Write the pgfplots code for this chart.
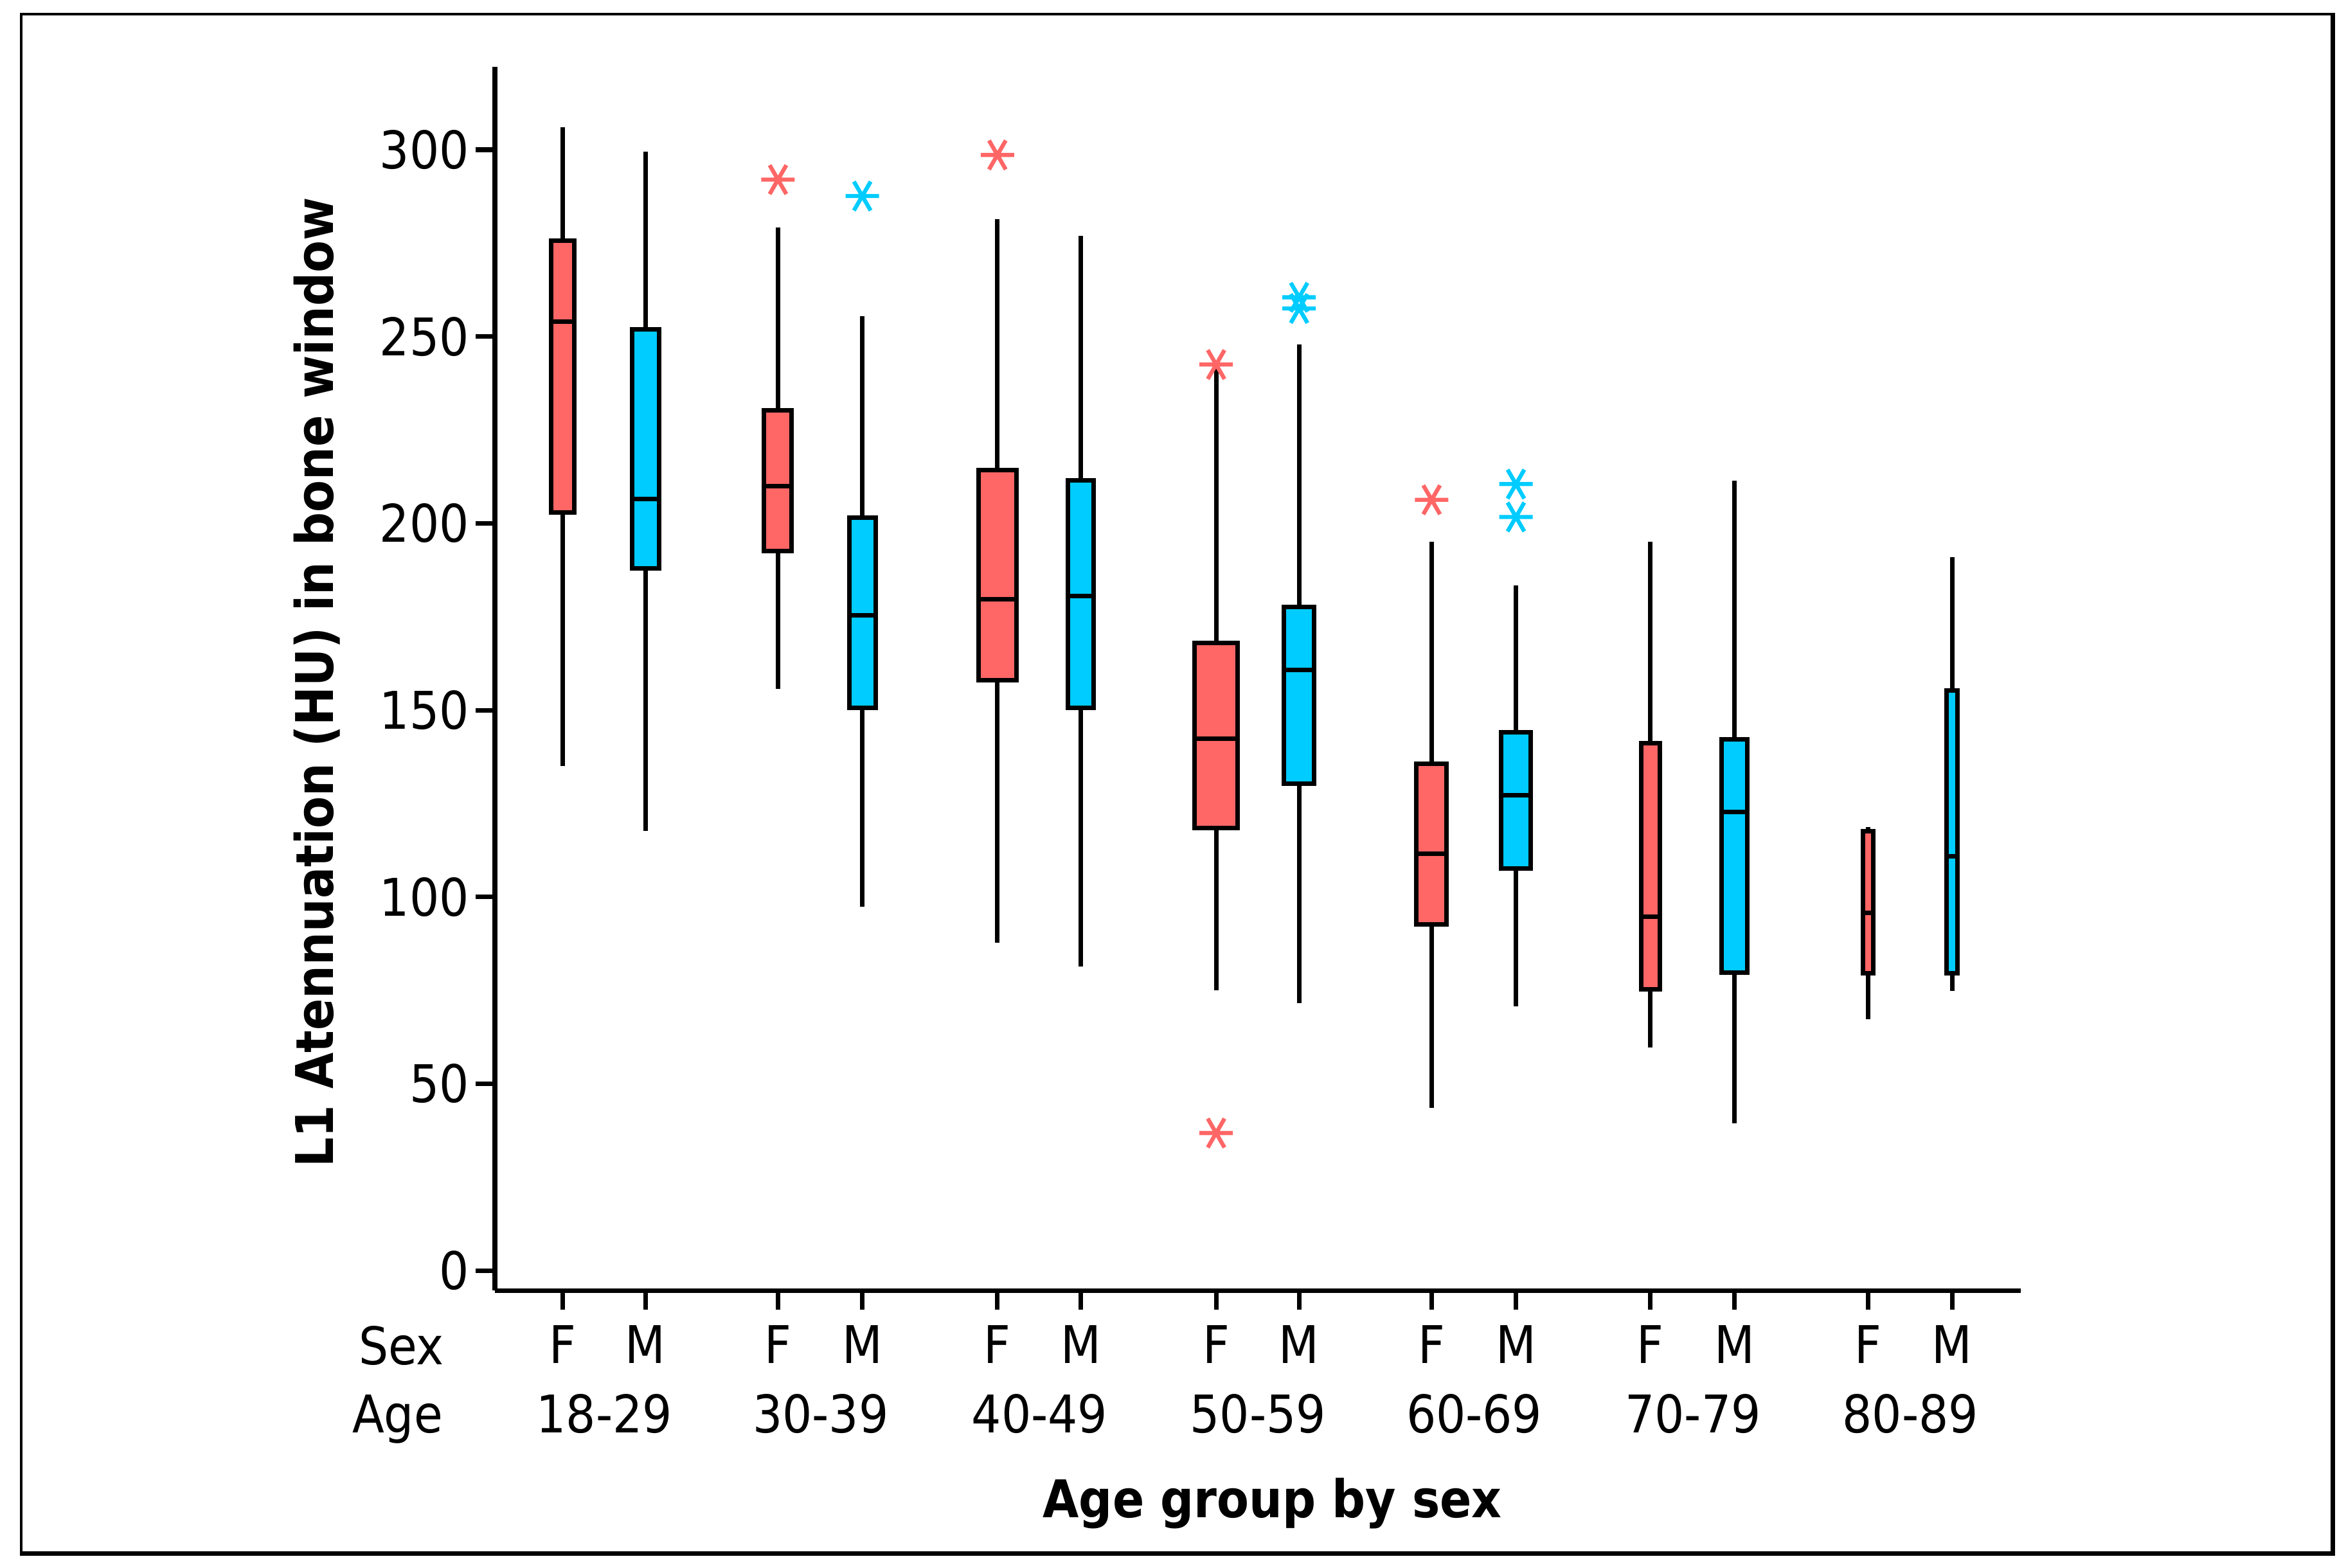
\documentclass[border=0pt]{standalone}
\usepackage{fontspec}
\setmainfont{DejaVu Sans Condensed}
\usepackage{pgfplots}
\pgfplotsset{compat=1.18}
\usepgfplotslibrary{statistics}

\definecolor{fcol}{HTML}{FF6666}
\definecolor{mcol}{HTML}{00CCFF}

\pgfplotsset{
  sbox/.style={
    draw=black, line width=1pt, fill=#1,
    mark=asterisk, mark size=3.7pt,
    mark options={draw=#1, line width=0.9pt, rotate=90},
    boxplot/draw direction=y,
    boxplot/whisker extend=0,
  },
}

\begin{document}
\begin{tikzpicture}
\useasboundingbox (0,0) rectangle (18.25cm,-12.195cm);
\begin{axis}[
  at={(3.85cm,-10.04cm)}, anchor=south west,
  x=0.005cm, y=0.029065cm,
  xmin=770, xmax=3142, ymin=-5.33, ymax=322.2,
  axis x line=bottom, axis y line=left,
  axis line style={-, line width=1pt},
  every tick/.style={black, line width=1pt},
  tick align=outside, major tick length=4.2pt,
  ytick={0,50,...,300},
  xtick={875,1004,1210,1341,1551,1681,1891,2020,2226,2357,2566,2697,2904,3035},
  xticklabels={F,M,F,M,F,M,F,M,F,M,F,M,F,M},
  font=\fontsize{11.5}{13.8}\selectfont,
  tick label style={font=\fontsize{11.5}{13.8}\selectfont},
  /pgf/number format/assume math mode=true,
  yticklabel style={xshift=2pt},
  clip=false,
]
% females
\addplot[sbox=fcol, boxplot prepared={draw position=875, box extend=36,
  lower whisker=135.0, lower quartile=202.9, median=254.0, upper quartile=275.7, upper whisker=306.1}]
  coordinates {};
\addplot[sbox=fcol, boxplot prepared={draw position=1210, box extend=43,
  lower whisker=155.6, lower quartile=192.5, median=209.9, upper quartile=230.3, upper whisker=279.2}]
  coordinates {(0,292.0)};
\addplot[sbox=fcol, boxplot prepared={draw position=1551, box extend=59,
  lower whisker=87.7, lower quartile=158.0, median=179.6, upper quartile=214.2, upper whisker=281.4}]
  coordinates {(0,298.6)};
\addplot[sbox=fcol, boxplot prepared={draw position=1891, box extend=67,
  lower whisker=75.0, lower quartile=118.4, median=142.3, upper quartile=167.9, upper whisker=241.5}]
  coordinates {(0,242.5) (0,36.8)};
\addplot[sbox=fcol, boxplot prepared={draw position=2226, box extend=47,
  lower whisker=43.6, lower quartile=92.6, median=111.5, upper quartile=135.6, upper whisker=195.1}]
  coordinates {(0,206.3)};
\addplot[sbox=fcol, boxplot prepared={draw position=2566, box extend=29,
  lower whisker=59.7, lower quartile=75.3, median=94.7, upper quartile=141.1, upper whisker=195.1}]
  coordinates {};
\addplot[sbox=fcol, boxplot prepared={draw position=2904, box extend=16,
  lower whisker=67.2, lower quartile=79.6, median=95.8, upper quartile=117.6, upper whisker=118.7}]
  coordinates {};
% males
\addplot[sbox=mcol, boxplot prepared={draw position=1004, box extend=42,
  lower whisker=117.7, lower quartile=187.9, median=206.5, upper quartile=252.0, upper whisker=299.5}]
  coordinates {};
\addplot[sbox=mcol, boxplot prepared={draw position=1341, box extend=41,
  lower whisker=97.3, lower quartile=150.6, median=175.3, upper quartile=201.5, upper whisker=255.4}]
  coordinates {(0,287.6)};
\addplot[sbox=mcol, boxplot prepared={draw position=1681, box extend=40,
  lower whisker=81.3, lower quartile=150.6, median=180.6, upper quartile=211.5, upper whisker=277.0}]
  coordinates {};
\addplot[sbox=mcol, boxplot prepared={draw position=2020, box extend=47,
  lower whisker=71.6, lower quartile=130.3, median=160.7, upper quartile=177.6, upper whisker=247.8}]
  coordinates {(0,260.5) (0,257.5)};
\addplot[sbox=mcol, boxplot prepared={draw position=2357, box extend=46,
  lower whisker=70.7, lower quartile=107.6, median=127.2, upper quartile=144.1, upper whisker=183.3}]
  coordinates {(0,210.5) (0,201.7)};
\addplot[sbox=mcol, boxplot prepared={draw position=2697, box extend=40,
  lower whisker=39.4, lower quartile=79.7, median=122.8, upper quartile=142.1, upper whisker=211.4}]
  coordinates {};
\addplot[sbox=mcol, boxplot prepared={draw position=3035, box extend=17,
  lower whisker=74.8, lower quartile=79.6, median=110.8, upper quartile=155.2, upper whisker=190.9}]
  coordinates {};
\end{axis}
\begin{scope}[x=0.005cm, y=-0.005cm, font=\fontsize{11.5}{13.8}\selectfont]
  \draw[line width=0.65pt] (33,22) rectangle (3626,2415);
  \draw[line width=1pt] (3626,20) -- (3626,2415) -- (31,2415);
  \node[anchor=base, inner sep=0pt] at (624,2121) {Sex};
  \node[anchor=base, inner sep=0pt] at (618,2227) {Age};
  \foreach \x/\t in {939.5/18-29, 1275.5/30-39, 1616/40-49, 1955.5/50-59,
                     2291.5/60-69, 2631.5/70-79, 2969.5/80-89}
    \node[anchor=base, inner sep=0pt] at (\x,2227) {\t};
  \node[anchor=base, inner sep=0pt, font=\fontsize{11.5}{13.8}\selectfont\bfseries]
    at (1978,2359) {Age group by sex};
  \node[anchor=base, inner sep=0pt, rotate=90, font=\fontsize{11.5}{13.8}\selectfont\bfseries]
    at (518,1061) {L1 Atennuation (HU) in bone window};
\end{scope}
\end{tikzpicture}
\end{document}
